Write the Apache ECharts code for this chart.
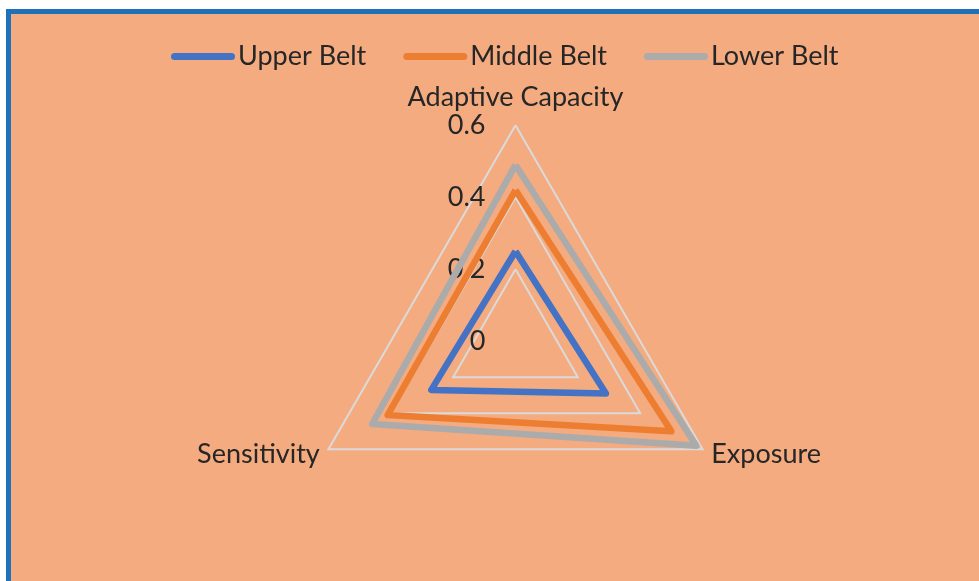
<!DOCTYPE html>
<html>
<head>
<meta charset="utf-8">
<script src="https://cdn.jsdelivr.net/npm/echarts@6/dist/echarts.min.js"></script>
<style>
  html, body { margin: 0; padding: 0; background: #ffffff; overflow: hidden; }
  .frame {
    position: absolute; left: 6px; top: 9px; width: 1000px; height: 600px;
    background: #F5AB80; border-left: 5px solid #1F72BA; border-top: 5px solid #1F72BA;
  }
  #chart { position: absolute; left: 0; top: 0; width: 979px; height: 581px; }
</style>
</head>
<body>
<div class="frame"></div>
<div id="chart"></div>
<script>
// indicators listed counterclockwise from the top, as the radar draws them
const indicators = ["Adaptive Capacity", "Sensitivity", "Exposure"];
const seriesNames = ["Upper Belt", "Middle Belt", "Lower Belt"];
const upperBelt = [0.25, 0.27, 0.29];
const middleBelt = [0.42, 0.41, 0.50];
const lowerBelt = [0.49, 0.46, 0.58];
const yTickLabels = ["0", "0.2", "0.4", "0.6"];

const colors = ["#4472C4", "#ED7D31", "#ABABAB"];
const font = "Lato";
const textColor = "#262626";
const center = [515.5, 341.3];
const radius = 216;

const chart = echarts.init(document.getElementById("chart"));

const legendIcon = "path://M3.5,0 L60.5,0 A3.5,3.5 0 0 1 60.5,7 L3.5,7 A3.5,3.5 0 0 1 3.5,0 Z";

const option = {
  backgroundColor: "transparent",
  textStyle: { fontFamily: font },
  color: colors,
  legend: {
    left: 166,
    top: 38,
    itemWidth: 64,
    itemHeight: 7,
    itemGap: 37,
    icon: legendIcon,
    data: seriesNames,
    textStyle: { color: textColor, fontSize: 27, fontFamily: font, padding: [0, 0, 0, -2] },
  },
  grid: {
    left: center[0],
    top: center[1] - radius,
    width: 1,
    height: radius,
  },
  xAxis: { type: "value", show: false },
  yAxis: {
    type: "value",
    min: 0,
    max: 0.6,
    interval: 0.2,
    axisLine: { show: false },
    axisTick: { show: false },
    splitLine: { show: false },
    axisLabel: {
      margin: 30,
      color: textColor,
      fontSize: 27,
      fontFamily: font,
      formatter: (v, i) => yTickLabels[i],
    },
  },
  radar: {
    center: center,
    radius: radius,
    startAngle: 90,
    shape: "polygon",
    splitNumber: 3,
    indicator: indicators.map((name) => ({ name: name, min: 0, max: 0.6 })),
    axisName: { color: textColor, fontSize: 27, fontFamily: font, padding: [0, 0, 5, 0] },
    nameGap: 10,
    axisLine: { show: false },
    axisTick: { show: false },
    axisLabel: { show: false },
    splitArea: { show: false },
    splitLine: { lineStyle: { color: "#DADADA", width: 2 } },
  },
  series: [
    {
      type: "radar",
      symbol: "none",
      data: [
        { name: seriesNames[0], value: upperBelt },
        { name: seriesNames[1], value: middleBelt },
        { name: seriesNames[2], value: lowerBelt },
      ].map((d, i) => ({
        ...d,
        lineStyle: { color: colors[i], width: 6.5, join: "round" },
        itemStyle: { color: colors[i] },
      })),
    },
  ],
};

chart.setOption(option);
</script>
</body>
</html>
